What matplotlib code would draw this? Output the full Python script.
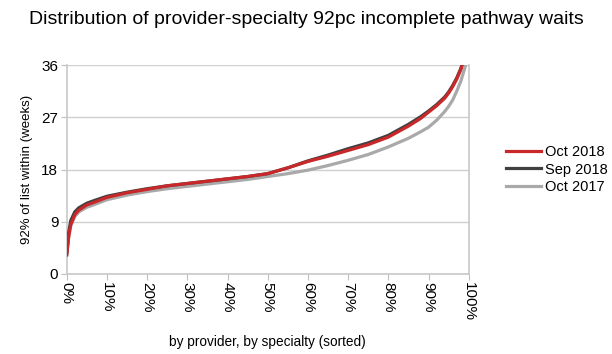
import matplotlib.pyplot as plt
import numpy as np

plt.rcParams["font.family"] = ["Liberation Sans", "DejaVu Sans"]

# percentile position along sorted provider-specialties (%)
pct = [0, 0.5, 1, 2, 3, 5, 7, 10, 15, 20, 25, 30, 35, 40, 45, 50, 55, 60,
       65, 70, 75, 80, 85, 88, 90, 92, 94, 95, 96, 97, 98, 99, 100]

oct_2018 = [3.3, 6.5, 8.5, 10.2, 11.0, 11.9, 12.4, 13.2, 14.0, 14.6, 15.2, 15.6, 16.0,
            16.4, 16.8, 17.3, 18.3, 19.4, 20.3, 21.3, 22.3, 23.6, 25.5, 26.8, 27.9,
            29.0, 30.3, 31.2, 32.3, 33.6, 35.2, 37.5, 40.0]
sep_2018 = [3.5, 7.2, 9.2, 10.7, 11.4, 12.2, 12.7, 13.4, 14.1, 14.7, 15.2, 15.6, 16.0,
            16.4, 16.8, 17.3, 18.3, 19.5, 20.5, 21.6, 22.6, 23.9, 25.8, 27.1, 28.1,
            29.2, 30.5, 31.4, 32.5, 33.8, 35.4, 37.6, 40.0]
oct_2017 = [3.3, 6.3, 8.3, 9.9, 10.7, 11.5, 12.0, 12.8, 13.6, 14.2, 14.7, 15.1, 15.5,
            15.9, 16.3, 16.8, 17.3, 17.9, 18.7, 19.6, 20.6, 21.9, 23.4, 24.5, 25.3,
            26.5, 28.0, 28.9, 30.0, 31.5, 33.2, 35.5, 38.0]

fig = plt.figure(figsize=(6.12, 3.54), dpi=100)
ax = fig.add_axes([0.109, 0.226, 0.657, 0.590])

ax.plot(pct, oct_2017, color="#a9a9a9", linewidth=2.3, label="Oct 2017", zorder=3)
ax.plot(pct, sep_2018, color="#404040", linewidth=2.3, label="Sep 2018", zorder=4)
ax.plot(pct, oct_2018, color="#c8282a", linewidth=2.3, label="Oct 2018", zorder=5)

ax.set_xlim(0, 100)
ax.set_ylim(0, 36)
ax.set_yticks([0, 9, 18, 27, 36])
ax.set_xticks(np.arange(0, 101, 10))
ax.set_xticklabels([f"{v}%" for v in range(0, 101, 10)], rotation=270)
ax.tick_params(axis="both", labelsize=11, color="#c0c0c0", length=4, pad=2)
ax.grid(axis="y", color="#d0d0d0", linewidth=1)
ax.set_axisbelow(True)
for side in ["left", "bottom", "right"]:
    ax.spines[side].set_color("#c8c8c8")
    ax.spines[side].set_linewidth(1.2)
ax.spines["top"].set_visible(False)

ax.set_ylabel("92% of list within (weeks)", fontsize=9.5, labelpad=6)
ax.set_xlabel("by provider, by specialty (sorted)", fontsize=9.8, labelpad=10)
fig.suptitle("Distribution of provider-specialty 92pc incomplete pathway waits",
             fontsize=14, x=0.5, y=0.97)

handles, labels = ax.get_legend_handles_labels()
ax.legend(handles[::-1], labels[::-1], loc="center left", bbox_to_anchor=(1.06, 0.5),
          frameon=False, fontsize=10.5, handlelength=2.4, labelspacing=0.25,
          handletextpad=0.3)

fig.savefig("out.png", dpi=100)
